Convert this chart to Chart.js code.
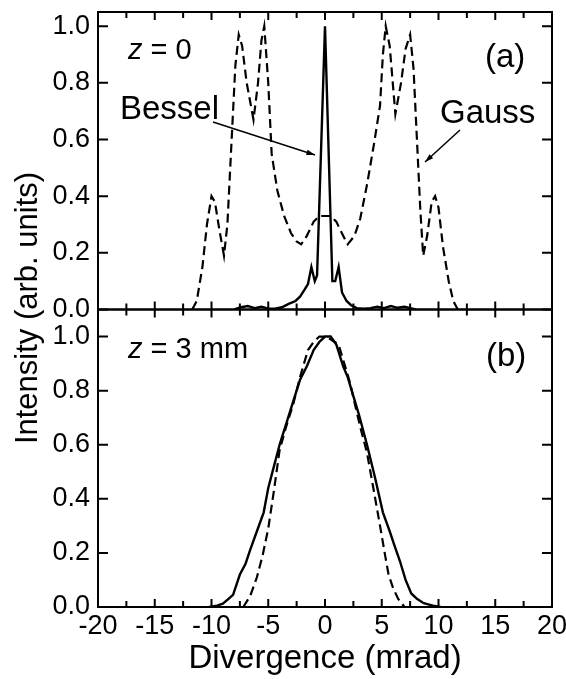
<!DOCTYPE html>
<html>
<head>
<meta charset="utf-8">
<script src="https://cdn.jsdelivr.net/npm/chart.js@4.4.1/dist/chart.umd.min.js"></script>
<style>
html,body{margin:0;padding:0;background:#fff;}
canvas{display:block;}
</style>
</head>
<body>
<canvas id="beamChart" width="566" height="679"></canvas>
<script>
// panel (a), z = 0
const gaussAx = [-11.7,-11.3,-10.8,-10.4,-10.0,-9.7,-9.3,-8.9,-8.6,-8.2,-7.9,-7.6,-7.3,-6.9,-6.3,-5.9,-5.6,-5.35,-5.0,-4.7,-4.2,-3.6,-3.0,-2.5,-2.1,-1.6,-1.0,-0.5,0,
  0.5,1.0,1.6,2.0,2.6,3.1,3.7,4.3,4.85,5.1,5.35,5.7,6.2,6.7,7.1,7.5,7.8,8.1,8.4,8.65,9.0,9.4,9.7,10.0,10.4,10.9,11.3,11.7];
const gaussAy = [0,0.03,0.15,0.30,0.40,0.38,0.28,0.19,0.30,0.62,0.86,0.97,0.93,0.80,0.67,0.80,0.95,1.0,0.80,0.55,0.42,0.33,0.27,0.24,0.23,0.26,0.31,0.33,0.33,
  0.33,0.31,0.26,0.23,0.26,0.32,0.44,0.58,0.72,0.90,1.0,0.93,0.69,0.80,0.92,0.97,0.85,0.60,0.35,0.19,0.26,0.38,0.40,0.36,0.22,0.10,0.03,0];

const besselAx = [-8.0,-7.4,-6.8,-6.2,-5.6,-5.0,-4.4,-3.8,-3.2,-2.6,-2.2,-1.8,-1.5,-1.2,-0.9,-0.7,0,0.65,0.9,1.2,1.5,1.9,2.3,2.8,3.4,4.0,4.6,5.2,5.8,6.4,7.0,7.6,8.0];
const besselAy = [0,0.008,0.012,0.005,0.01,0.003,0.003,0.008,0.02,0.03,0.045,0.07,0.09,0.15,0.10,0.12,1.0,0.10,0.10,0.15,0.06,0.03,0.015,0.005,0.003,0.005,0.01,0.005,0.012,0.006,0.01,0.004,0];

// panel (b), z = 3 mm
const besselBx = [-10.2,-9.5,-9.0,-8.5,-8.1,-7.5,-7.0,-6.6,-6.0,-5.4,-5.0,-4.5,-4.0,-3.4,-2.8,-2.2,-1.6,-1.0,-0.5,0,0.5,1.0,1.6,2.0,2.5,3.0,3.7,4.4,5.1,5.7,6.1,6.6,7.1,7.6,8.1,8.7,9.5,10.2];
const besselBy = [0,0.005,0.012,0.03,0.045,0.12,0.16,0.21,0.28,0.35,0.44,0.52,0.60,0.68,0.76,0.84,0.89,0.95,0.98,1.0,1.0,0.97,0.89,0.85,0.78,0.71,0.60,0.48,0.35,0.28,0.23,0.17,0.10,0.05,0.03,0.014,0.005,0];

const gaussBx = [-7.2,-6.6,-6.0,-5.5,-5.0,-4.5,-4.0,-3.4,-2.8,-2.2,-1.5,-1.0,-0.5,0,0.5,1.2,1.7,2.2,2.8,3.2,3.7,4.3,4.85,5.3,5.6,6.0,6.45,7.0];
const gaussBy = [0,0.04,0.11,0.19,0.29,0.43,0.58,0.67,0.75,0.85,0.95,0.98,1.0,1.0,0.99,0.97,0.90,0.83,0.72,0.65,0.57,0.43,0.30,0.19,0.12,0.07,0.03,0];

const xTicks = [-20,-15,-10,-5,0,5,10,15,20];
const xMinorTicks = [-17.5,-12.5,-7.5,-2.5,2.5,7.5,12.5,17.5];
const yTicks = [0,0.2,0.4,0.6,0.8,1.0];

const FONT = "'Liberation Sans', Arial, sans-serif";

function pts(xs, ys){ return xs.map((x,i)=>({x:x, y:ys[i]})); }

const framePlugin = {
  id:'frame',
  afterDraw(chart){
    const ctx = chart.ctx;
    const xs = chart.scales.x;
    ctx.save();
    ctx.strokeStyle = '#000';
    ctx.lineWidth = 2;
    [chart.scales.yTop, chart.scales.yBot].forEach(ys=>{
      ctx.strokeRect(xs.left, ys.top, xs.right-xs.left, ys.bottom-ys.top);
      ctx.beginPath();
      xTicks.forEach(v=>{
        const px = xs.getPixelForValue(v);
        ctx.moveTo(px, ys.bottom); ctx.lineTo(px, ys.bottom-8);
        ctx.moveTo(px, ys.top); ctx.lineTo(px, ys.top+8);
      });
      xMinorTicks.forEach(v=>{
        const px = xs.getPixelForValue(v);
        ctx.moveTo(px, ys.bottom); ctx.lineTo(px, ys.bottom-6);
        ctx.moveTo(px, ys.top); ctx.lineTo(px, ys.top+6);
      });
      yTicks.forEach(v=>{
        const py = ys.getPixelForValue(v);
        ctx.moveTo(xs.left, py); ctx.lineTo(xs.left+10, py);
        ctx.moveTo(xs.right, py); ctx.lineTo(xs.right-10, py);
      });
      ctx.stroke();
    });

    // annotations
    ctx.fillStyle = '#000';
    ctx.textBaseline = 'alphabetic';
    function zLabel(x, y, rest){
      ctx.font = 'italic 29px ' + FONT;
      ctx.fillText('z', x, y);
      const w = ctx.measureText('z').width;
      ctx.font = '29px ' + FONT;
      ctx.fillText(rest, x + w, y);
    }
    zLabel(128, 59, ' = 0');
    zLabel(128, 358, ' = 3 mm');

    ctx.font = '33px ' + FONT;
    ctx.fillText('Bessel', 120, 119);
    ctx.fillText('Gauss', 440, 123);
    ctx.fillText('(a)', 485, 67);
    ctx.fillText('(b)', 486, 366);

    function arrow(x1,y1,x2,y2){
      ctx.beginPath();
      ctx.lineWidth = 1.5;
      ctx.moveTo(x1,y1); ctx.lineTo(x2,y2); ctx.stroke();
      const a = Math.atan2(y2-y1, x2-x1);
      ctx.beginPath();
      ctx.moveTo(x2,y2);
      ctx.lineTo(x2-9*Math.cos(a-0.3), y2-9*Math.sin(a-0.3));
      ctx.lineTo(x2-9*Math.cos(a+0.3), y2-9*Math.sin(a+0.3));
      ctx.closePath(); ctx.fill();
    }
    arrow(213,122,315,155);
    arrow(460,130,425,162);

    // y axis title
    ctx.save();
    ctx.translate(37, 308);
    ctx.rotate(-Math.PI/2);
    ctx.textAlign = 'center';
    ctx.font = '31px ' + FONT;
    ctx.fillText('Intensity (arb. units)', 0, 0);
    ctx.restore();

    ctx.restore();
  }
};

const yCommon = {
  type:'linear',
  stack:'panels',
  stackWeight:1,
  min:0,
  grid:{display:false, drawTicks:false},
  border:{display:false},
  afterBuildTicks(scale){ scale.ticks = yTicks.map(v=>({value:v})); },
  afterFit(scale){ scale.width = 98; scale.paddingTop = 0; scale.paddingBottom = 0; },
  ticks:{
    padding:8,
    autoSkip:false,
    color:'#000',
    font:{family:FONT, size:27},
    callback:(v)=>v.toFixed(1)
  }
};

new Chart(document.getElementById('beamChart'),{
  type:'line',
  data:{
    datasets:[
      {data:pts(gaussAx,gaussAy), yAxisID:'yTop', borderColor:'#000', borderWidth:2.2, borderDash:[9,5], pointRadius:0, tension:0, fill:false},
      {data:pts(besselAx,besselAy), yAxisID:'yTop', borderColor:'#000', borderWidth:2.4, pointRadius:0, tension:0, fill:false},
      {data:pts(gaussBx,gaussBy), yAxisID:'yBot', borderColor:'#000', borderWidth:2.2, borderDash:[9,5], pointRadius:0, tension:0, fill:false},
      {data:pts(besselBx,besselBy), yAxisID:'yBot', borderColor:'#000', borderWidth:2.4, pointRadius:0, tension:0, fill:false}
    ]
  },
  options:{
    responsive:false,
    animation:false,
    layout:{padding:{top:12, right:14, left:0, bottom:0}},
    plugins:{legend:{display:false}, tooltip:{enabled:false}},
    scales:{
      x:{
        type:'linear',
        min:-20, max:20,
        grid:{display:false, drawTicks:false},
        border:{display:false},
        afterBuildTicks(scale){ scale.ticks = xTicks.map(v=>({value:v})); },
        afterFit(scale){ scale.height = 72; scale.paddingLeft = 0; scale.paddingRight = 0; },
        ticks:{padding:3, autoSkip:false, maxRotation:0, color:'#000', font:{family:FONT, size:27}},
        title:{display:true, text:'Divergence (mrad)', color:'#000', font:{family:FONT, size:33}, padding:{top:0, bottom:0}}
      },
      // stacked axes are placed bottom-up in declaration order
      yBot:Object.assign({}, yCommon, {max:1.1}),
      yTop:Object.assign({}, yCommon, {max:1.05})
    }
  },
  plugins:[framePlugin]
});
</script>
</body>
</html>
